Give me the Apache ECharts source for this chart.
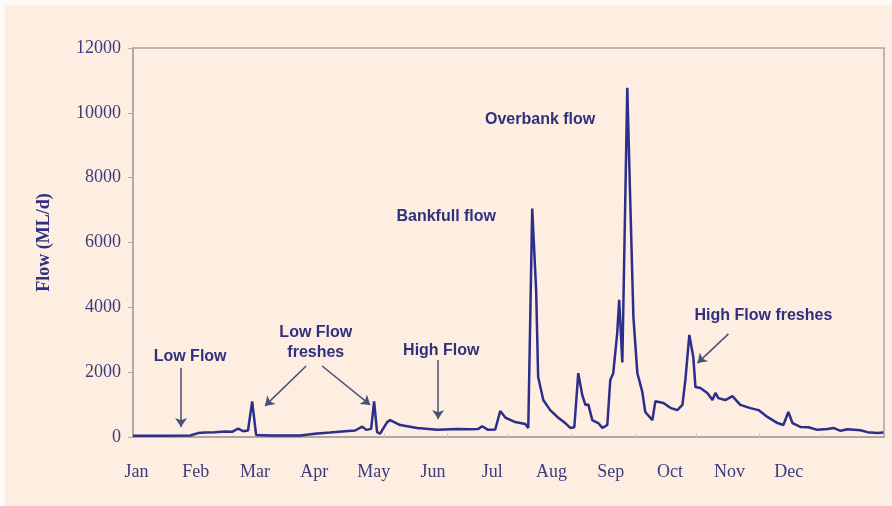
<!DOCTYPE html>
<html>
<head>
<meta charset="utf-8">
<script src="https://cdn.jsdelivr.net/npm/echarts@6/dist/echarts.min.js"></script>
<style>
  html, body { margin: 0; padding: 0; background: #fdeee1; overflow: hidden; }
  #chart { position: absolute; left: 0; top: 0; width: 892px; height: 506px; }
  .strip { position: absolute; background: #fefaf6; z-index: 5; }
</style>
</head>
<body>
<div id="chart"></div>
<div class="strip" style="left:0;top:0;width:892px;height:5px;"></div>
<div class="strip" style="left:0;top:0;width:5px;height:506px;"></div>
<script>
// Month labels placed every 30 x-units
const months = ['Jan','Feb','Mar','Apr','May','Jun','Jul','Aug','Sep','Oct','Nov','Dec'];
// Faint tick marks along the bottom axis (x-units)
const xTickDays = [32, 64, 95, 127, 159, 190, 222, 254, 285, 317, 349];

// Flow series: x position (x-units) and flow (ML/d)
const flowDay = [0, 13.7, 28.9, 32.9, 36.5, 41.5, 46.6, 50.1, 53.2, 55.7, 58.2, 60.3, 62.3, 69.4, 84.6,
  93.2, 99.7, 107.3, 112.4, 116, 118, 120.5, 122, 123.5, 125, 128.6, 130.1, 135.2, 143.8, 153.9,
  164, 170.6, 174.7, 176.7, 179.7, 183.3, 185.8, 188.4, 193.4, 198.5, 200, 202, 204, 205, 207.6,
  211.1, 214.7, 218.7, 221.3, 223.3, 225.3, 227.3, 228.9, 230.4, 232.4, 235.4, 237.5, 240, 241.5,
  243, 245, 246, 247.6, 250.1, 251.6, 253.2, 255.2, 257.7, 259.2, 262.8, 264.3, 268.4, 271.9,
  275.4, 278, 279.5, 281.5, 283.5, 284.6, 287.1, 290.6, 293.2, 294.7, 296.2, 299.7, 303.3, 307.3,
  312.4, 316.5, 321, 326.1, 329.1, 331.6, 333.7, 337.7, 341.8, 346.3, 351.4, 354.4, 358, 361.5,
  368.1, 371.6, 376.7, 379.7];
const flowML = [40, 40, 45, 120, 140, 150, 170, 160, 260, 180, 200, 1100, 60, 50, 45,
  110, 140, 180, 200, 320, 220, 250, 1100, 150, 100, 460, 520, 370, 280, 220,
  250, 240, 250, 330, 220, 230, 800, 600, 460, 400, 280, 7050, 4500, 1850, 1140,
  830, 620, 430, 280, 300, 1970, 1300, 990, 1000, 520, 430, 280, 370, 1760,
  1970, 3200, 4230, 2300, 10770, 7300, 3700, 1970, 1390, 770, 520, 1100, 1050, 900,
  830, 990, 1760, 3150, 2470, 1540, 1510, 1360, 1140, 1360, 1200, 1140, 1260, 990,
  890, 830, 620, 430, 370, 770, 430, 310, 300, 220, 250, 280, 190, 240,
  210, 150, 120, 140];

// Annotation texts and their anchor positions [x-units, flow]
const noteText = ['Low Flow', 'Low Flow\nfreshes', 'High Flow', 'Bankfull flow', 'Overbank flow', 'High Flow freshes'];
const notePos = [[28.9, 2470], [92.5, 2900], [156, 2680], [158.5, 6790], [206, 9780], [319, 3730]];

// Arrows: start and end [x-units, flow]
const arrowFrom = [[24.3, 2130], [87.6, 2190], [95.7, 2190], [154.4, 2375], [301.3, 3180]];
const arrowTo   = [[24.3, 310],  [66.8, 960],  [120, 990],   [154.4, 555],  [285.6, 2280]];

const lineData = flowDay.map((d, i) => [d, flowML[i]]);
const arrowData = arrowFrom.map((f, i) => [{ coord: f }, { coord: arrowTo[i] }]);
const noteData = noteText.map((t, i) => ({ name: t, coord: notePos[i] }));

const chart = echarts.init(document.getElementById('chart'));
chart.setOption({
  animation: false,
  backgroundColor: '#fdeee1',
  grid: {
    left: 133, top: 48, right: 8, bottom: 69,
    show: true, borderColor: '#aba4a4', borderWidth: 1.5, backgroundColor: 'transparent'
  },
  xAxis: {
    type: 'value', min: 0, max: 380, interval: 30,
    axisLine: { show: true, lineStyle: { color: '#aba4a4', width: 1.5 } },
    axisTick: { show: true, inside: true, length: 4, customValues: xTickDays, lineStyle: { color: '#d2c8c2' } },
    axisLabel: {
      showMaxLabel: false,
      formatter: v => months[Math.round(v / 30)] || '',
      fontFamily: 'Liberation Serif', fontSize: 18, color: '#3b3b7d', margin: 26,
      padding: [0, 0, 0, 7]
    },
    splitLine: { show: false }
  },
  yAxis: {
    type: 'value', min: 0, max: 12000, interval: 2000,
    name: 'Flow (ML/d)', nameLocation: 'middle', nameGap: 80,
    nameTextStyle: { fontFamily: 'Liberation Serif', fontWeight: 'bold', fontSize: 18, color: '#30307e' },
    axisLine: { show: true, lineStyle: { color: '#aba4a4', width: 1.5 } },
    axisTick: { show: true, length: 5, lineStyle: { color: '#b5adad' } },
    axisLabel: { formatter: v => String(v), fontFamily: 'Liberation Serif', fontSize: 18, color: '#3b3b7d', margin: 12 },
    splitLine: { show: false }
  },
  series: [{
    type: 'line',
    data: lineData,
    symbol: 'none',
    lineStyle: { color: '#2d2d8a', width: 2.5 },
    markLine: {
      silent: true, animation: false,
      symbol: ['none', 'arrow'], symbolSize: 9,
      lineStyle: { color: '#4b5075', width: 1.5, type: 'solid' },
      label: { show: false },
      data: arrowData
    },
    markPoint: {
      silent: true, animation: false,
      symbol: 'circle', symbolSize: 1,
      itemStyle: { color: 'rgba(0,0,0,0)' },
      label: {
        show: true, position: 'inside', formatter: p => p.name,
        fontFamily: 'Liberation Sans', fontWeight: 'bold', fontSize: 16, lineHeight: 20, color: '#30307e'
      },
      data: noteData
    }
  }]
});
</script>
</body>
</html>
